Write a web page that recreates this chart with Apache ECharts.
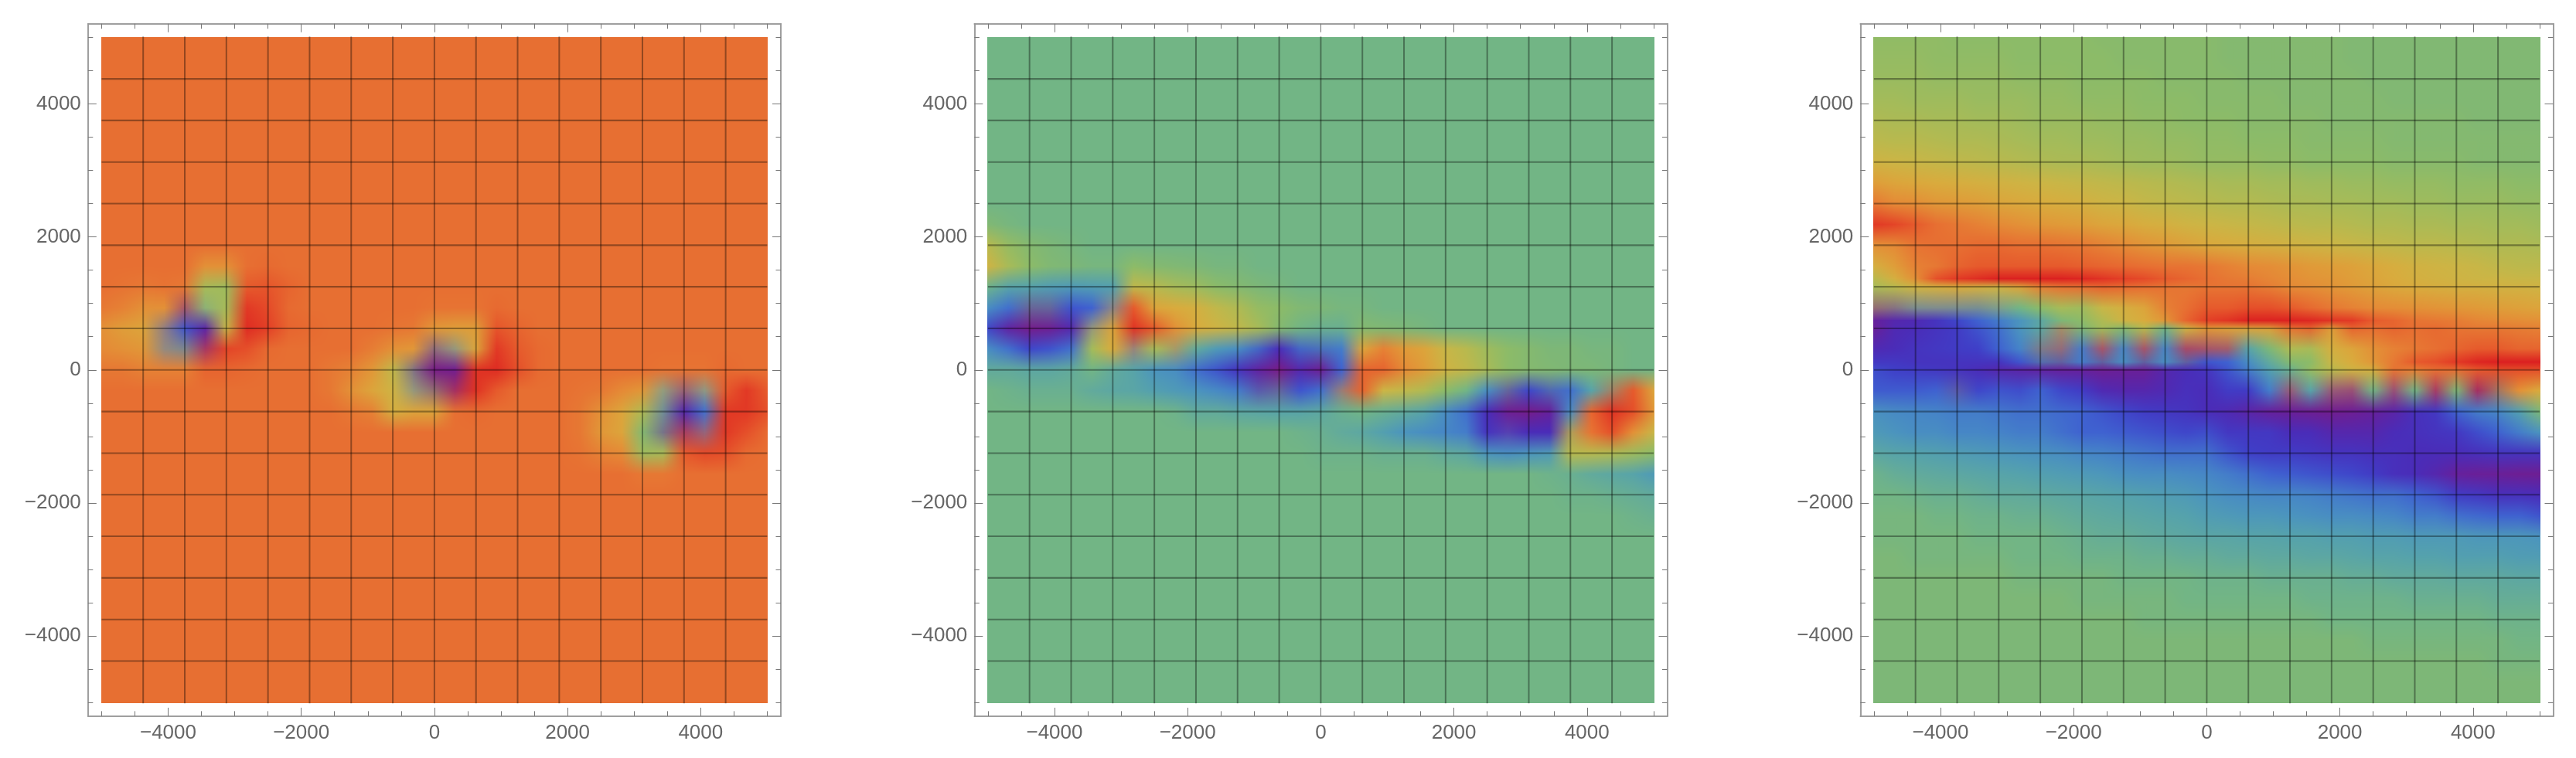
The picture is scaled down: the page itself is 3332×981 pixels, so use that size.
<!DOCTYPE html>
<html><head><meta charset="utf-8">
<style>html,body{margin:0;padding:0;background:#fff}#c{width:3332px;height:981px}</style>
<script src="https://cdn.jsdelivr.net/npm/echarts@6/dist/echarts.min.js"></script>
</head><body><div id="c"></div>
<script>
const majorTicks=[-4000,-2000,0,2000,4000];
const minorTicks=[-5000,-4500,-3500,-3000,-2500,-1500,-1000,-500,500,1000,1500,2500,3000,3500,4500,5000];
const meshValues=[-4375,-3750,-3125,-2500,-1875,-1250,-625,0,625,1250,1875,2500,3125,3750,4375];
const nodeX=[-5000,-4687.5,-4375,-4062.5,-3750,-3437.5,-3125,-2812.5,-2500,-2187.5,-1875,-1562.5,-1250,-937.5,-625,-312.5,0,312.5,625,937.5,1250,1562.5,1875,2187.5,2500,2812.5,3125,3437.5,3750,4062.5,4375,4687.5,5000];
const nodeY=[5000,4687.5,4375,4062.5,3750,3437.5,3125,2812.5,2500,2187.5,1875,1562.5,1250,937.5,625,312.5,0,-312.5,-625,-937.5,-1250,-1562.5,-1875,-2187.5,-2500,-2812.5,-3125,-3437.5,-3750,-4062.5,-4375,-4687.5,-5000];
const nodeYC=[5000,4687.5,4375,4062.5,3750,3437.5,3125,2812.5,2500,2187.5,1875,1562.5,1375,1250,937.5,750,625,312.5,125,0,-312.5,-625,-937.5,-1250,-1562.5,-1875,-2187.5,-2500,-2812.5,-3125,-3437.5,-3750,-4062.5,-4375,-4687.5,-5000];
const rampStops=[0,5,10,15,20,25,30,35,40,44,46,50,55,60,65,70,75,80,86,90,95,100];
const rampColors=['#781c86','#66209c','#4a2cb8','#3f3fc8','#3f62d0','#4583c8','#4b94be','#55a2ac','#62aa9c','#72b585','#7db777','#8cbb68','#a3bb5a','#b8b94e','#ccb545','#d9ab3d','#e09a38','#e58a36','#e76f32','#e65a2c','#e33f26','#db2020'];

const flatA=[86,86,86,86,86,86,86,86,86,86,86,86,86,86,86,86,86,86,86,86,86,86,86,86,86,86,86,86,86,86,86,86,86];
const valuesA=[flatA,flatA,flatA,flatA,flatA,flatA,flatA,flatA,flatA,flatA,flatA,
[86,86,86,86,86,78,78,86,87,86,86,86,86,86,86,86,86,86,86,86,86,86,86,86,86,86,86,86,86,86,86,86,86],
[86,85,84,85,84,56,54,90,91,88,86,86,86,86,86,86,86,86,86,86,86,86,86,86,86,86,86,86,86,86,86,86,86],
[84,82,78,78,[5,80],[40,60],56,96,93,87,86,86,86,86,86,86,85,85,85,87,86,86,86,86,86,86,86,86,86,86,86,86,86],
[78,74,72,[20,75],18,7,64,98,95,88,87,86,86,86,85,84,76,74,74,91,88,86,86,86,86,86,86,86,86,86,86,86,86],
[80,78,76,[25,78],[18,60],[5,92],94,92,87,86,86,86,86,83,78,76,[10,70],[30,75],72,96,90,87,86,86,86,86,86,86,86,86,86,86,86,86],
[84,84,82,82,82,88,88,87,86,86,86,84,82,76,62,[10,60],0,2,97,98,92,87,86,86,86,86,86,85,85,85,87,86,86],
[86,86,86,86,86,86,86,86,86,86,86,84,78,72,66,[30,75],[3,60],[5,95],97,90,86,86,86,85,84,80,76,[30,72],[8,75],[25,70],90,96,90],
[86,86,86,86,86,86,86,86,86,86,86,86,84,82,68,72,72,86,87,86,86,86,86,84,78,72,58,[20,55],8,22,96,96,92],
[86,86,86,86,86,86,86,86,86,86,86,86,86,86,86,86,86,86,86,86,86,86,86,84,76,72,48,[10,55],[3,90],[22,90],96,92,87],
[86,86,86,86,86,86,86,86,86,86,86,86,86,86,86,86,86,86,86,86,86,86,86,85,82,80,54,56,90,93,92,87,86],
[86,86,86,86,86,86,86,86,86,86,86,86,86,86,86,86,86,86,86,86,86,86,86,86,86,86,84,84,86,86,86,86,86],
flatA,flatA,flatA,flatA,flatA,flatA,flatA,flatA,flatA,flatA,flatA];

const flatB=[44,44,44,44,44,44,44,44,44,44,44,44,44,44,44,44,44,44,44,44,44,44,44,44,44,44,44,44,44,44,44,44,44];
const valuesB=[flatB,flatB,flatB,flatB,flatB,flatB,flatB,flatB,flatB,
[47,45,44,44,44,44,44,44,44,44,44,44,44,44,44,44,44,44,44,44,44,44,44,44,44,44,44,44,44,44,44,44,44],
[60,52,48,46,45,44,44,44,44,44,44,44,44,44,44,44,44,44,44,44,44,44,44,44,44,44,44,44,44,44,44,44,44],
[66,56,50,47,46,45,45,50,48,47,46,45,45,44,44,44,44,44,44,44,44,44,44,44,44,44,44,44,44,44,44,44,44],
[43,36,35,33,32,33,34,62,60,56,54,50,48,46,45,44,44,44,44,44,44,44,44,44,44,44,44,44,44,44,44,44,44],
[28,22,[3,40],[5,40],18,20,[20,70],90,72,70,68,62,58,52,50,47,46,45,45,44,44,44,44,44,44,44,44,44,44,44,44,44,44],
[16,6,1,3,8,[30,75],72,97,90,78,70,66,62,56,48,44,42,42,48,47,46,45,44,44,44,44,44,44,44,44,44,44,44],
[28,22,16,18,22,55,70,[30,85],56,[40,80],40,32,28,[15,28],10,[15,28],[15,35],24,72,82,75,72,64,60,54,50,48,46,46,45,45,44,44],
[40,40,38,38,40,44,40,36,30,28,22,18,12,6,0,8,3,20,88,88,80,74,66,62,56,50,48,47,46,46,45,44,44],
[44,43,42,42,42,40,38,37,34,32,30,27,24,[5,30],[5,40],18,22,[30,88],88,65,62,58,50,44,28,[5,40],16,[10,35],22,36,[40,90],90,72],
[44,44,44,44,44,44,44,44,44,43,40,40,38,37,36,36,38,42,44,42,40,36,28,22,10,3,1,5,28,88,97,92,76],
[44,44,44,44,44,44,44,44,44,44,44,44,44,44,44,43,42,40,38,34,30,28,26,24,12,[3,20],10,10,[45,80],85,92,78,64],
[44,44,44,44,44,44,44,44,44,44,44,44,44,44,44,44,43,43,43,42,42,42,40,38,30,28,30,32,60,60,58,54,50],
[44,44,44,44,44,44,44,44,44,44,44,44,44,44,44,44,44,44,44,44,44,44,44,44,44,44,44,43,42,40,38,36,32],
[44,44,44,44,44,44,44,44,44,44,44,44,44,44,44,44,44,44,44,44,44,44,44,44,44,44,44,44,43,43,42,41,40],
[44,44,44,44,44,44,44,44,44,44,44,44,44,44,44,44,44,44,44,44,44,44,44,44,44,44,44,44,44,44,44,43,42],
flatB,flatB,flatB,flatB,flatB,flatB,flatB,flatB,flatB];

const valuesC=[
[51,51,51,51,50,50,50,50,50,50,50,49,49,49,49,49,49,48,48,48,48,48,48,47,47,47,47,47,47,47,47,47,47],
[52,52,52,51,51,51,51,50,50,50,50,50,49,49,49,49,49,48,48,48,48,48,48,47,47,47,47,47,47,47,47,47,47],
[53,53,53,52,52,52,52,51,51,51,50,50,50,50,49,49,49,49,48,48,48,48,48,48,47,47,47,47,47,47,47,47,47],
[55,55,54,54,54,53,53,53,52,52,51,51,51,50,50,50,49,49,49,49,48,48,48,48,48,47,47,47,47,47,47,47,47],
[58,57,57,56,56,55,55,54,53,53,53,52,52,51,51,50,50,50,49,49,49,49,48,48,48,48,48,48,48,47,47,47,47],
[61,60,60,59,58,58,57,56,55,55,54,54,53,53,52,52,51,51,50,50,50,49,49,49,49,48,48,48,48,48,48,48,48],
[66,65,64,63,62,61,60,59,58,57,57,56,55,54,54,53,52,52,52,51,51,50,50,50,50,49,49,49,49,48,48,48,48],
[74,72,71,70,69,68,67,66,65,64,63,62,61,60,59,58,57,56,56,55,55,54,54,53,53,52,52,52,51,51,51,50,50],
[84,80,79,76,75,74,72,71,70,69,68,66,65,63,62,61,60,59,59,58,57,57,56,56,55,55,54,54,53,53,53,52,52],
[96,94,90,86,84,82,80,78,76,75,74,72,71,69,68,66,65,64,63,62,61,60,60,59,58,58,57,57,56,56,55,55,54],
[78,80,85,86,86,87,87,86,86,85,84,82,80,77,75,73,71,70,69,68,67,66,65,64,63,62,61,61,60,59,58,58,57],
[68,74,82,84,88,90,90,90,90,90,89,88,87,86,85,85,84,82,80,79,77,75,74,73,71,69,67,66,65,64,62,61,61],
[60,68,78,92,96,98,100,100,100,100,99,97,95,93,90,88,86,84,83,81,79,77,76,74,72,70,68,67,66,65,65,64,64],
[56,60,66,68,70,68,66,72,82,85,86,88,87,86,85,84,85,85,85,83,80,79,77,75,73,71,70,69,68,68,67,67,66],
[[5,62],[10,62],[20,60],[20,62],[20,60],[20,58],[25,60],44,50,56,54,64,68,72,82,86,90,90,92,92,90,87,84,82,80,79,78,77,76,75,74,73,72],
[5,8,9,12,16,20,24,30,38,46,50,58,66,70,76,88,95,97,100,100,100,99,97,96,90,88,85,84,83,81,80,79,78],
[4,9,10,12,14,18,22,30,38,[40,85],46,55,48,60,44,66,76,73,72,73,85,88,74,88,86,88,86,87,85,84,84,83,82],
[9,10,12,13,14,15,20,25,[15,60],[10,70],24,[5,80],26,[5,80],26,[5,85],[5,80],[5,75],36,46,58,56,68,72,78,82,84,86,88,90,90,88,88],
[13,13,12,12,12,12,12,18,[12,40],[3,35],24,[3,35],28,[3,35],28,[3,35],18,20,28,40,48,50,64,70,76,84,90,92,96,99,100,100,100],
[17,15,14,13,12,10,8,7,6,5,5,3,4,4,8,10,12,18,24,34,42,52,60,66,68,85,82,86,86,90,92,92,92],
[19,19,19,20,[5,30],16,18,17,20,16,14,9,8,8,9,11,10,14,14,24,[10,80],36,[10,80],[10,85],44,[10,85],44,[5,90],46,[5,95],[40,95],78,70],
[29,27,26,25,24,24,23,22,22,21,20,18,16,14,13,12,10,9,7,5,4,3,2,3,5,7,11,13,20,24,26,34,46],
[32,30,28,28,26,26,25,24,24,22,20,20,19,18,17,16,17,13,13,13,10,10,8,8,8,10,11,12,13,17,20,24,30],
[38,36,35,34,33,32,31,30,29,28,26,25,24,23,22,22,22,18,15,14,14,13,12,12,11,11,10,10,10,11,12,12,12],
[43,41,40,39,38,37,36,35,34,33,32,31,29,28,28,27,26,24,22,20,19,18,17,16,14,11,10,8,5,4,4,3,3],
[44,44,43,42,42,41,40,40,39,38,37,36,35,34,33,32,30,28,27,26,26,25,24,23,22,22,20,18,14,13,11,11,10],
[45,45,45,44,44,43,43,42,42,41,40,39,38,37,36,35,33,32,31,31,30,29,28,28,27,26,24,24,22,21,20,20,18],
[45,45,45,45,45,44,44,44,44,43,42,41,41,40,39,38,37,37,36,36,35,35,34,34,33,33,32,32,32,31,31,31,30],
[46,46,45,45,45,45,45,44,44,44,43,43,43,42,42,41,41,40,40,39,39,38,38,37,36,36,35,35,34,34,34,33,33],
[46,46,46,46,46,46,46,45,45,45,45,45,44,44,44,44,43,43,43,42,42,42,42,41,41,40,40,40,39,39,39,38,38],
[46,46,46,46,46,46,46,46,46,46,45,45,45,45,45,44,44,44,44,44,44,43,43,43,43,43,42,42,42,42,41,41,41],
[46,46,46,46,46,46,46,46,46,46,46,46,46,45,45,45,45,45,45,45,45,45,44,44,44,44,44,44,44,44,43,43,43],
[46,46,46,46,46,46,46,46,46,46,46,46,46,46,46,46,46,46,46,46,46,46,46,46,45,45,45,45,45,45,45,44,44],
[46,46,46,46,46,46,46,46,46,46,46,46,46,46,46,46,46,46,46,46,46,46,46,46,46,46,46,46,46,46,45,45,45],
[46,46,46,46,46,46,46,46,46,46,46,46,46,46,46,46,46,46,46,46,46,46,46,46,46,46,46,46,46,46,46,46,46],
[46,46,46,46,46,46,46,46,46,46,46,46,46,46,46,46,46,46,46,46,46,46,46,46,46,46,46,46,46,46,46,46,46]];

const panels=[{left:113.8,vals:valuesA,ys:nodeY},{left:1260.3,vals:valuesB,ys:nodeY},{left:2406.3,vals:valuesC,ys:nodeYC}];
const TOP=30.7,SIZE=896.2,RANGE=5204,AX='#999999',TK='#777777',TXT='#666666',FONT='"Liberation Sans",Arial,sans-serif';

const rampRGB=rampColors.map(c=>[1,3,5].map(k=>parseInt(c.substr(k,2),16)));
function rampAt(v){
  let k=0;while(k<rampStops.length-2&&v>rampStops[k+1])k++;
  const t=(v-rampStops[k])/(rampStops[k+1]-rampStops[k]);
  return rampRGB[k].map((c,n)=>c+(rampRGB[k+1][n]-c)*t);
}
function rgbOf(v){
  if(!Array.isArray(v))return rampAt(v);
  const a=rampAt(v[0]),b=rampAt(v[1]);
  return a.map((c,n)=>(c+b[n])/2);
}
function shaded(w,h,a,b,c,d){
  const cv=document.createElement('canvas');cv.width=w;cv.height=h;
  const g=cv.getContext('2d'),im=g.createImageData(w,h),A=rgbOf(a),B=rgbOf(b),C=rgbOf(c),D=rgbOf(d);
  for(let y=0;y<h;y++)for(let x=0;x<w;x++){
    const u=w>1?x/(w-1):0,s=h>1?y/(h-1):0,o=(y*w+x)*4;
    for(let n=0;n<3;n++)im.data[o+n]=(A[n]*(1-u)+B[n]*u)*(1-s)+(C[n]*(1-u)+D[n]*u)*s;
    im.data[o+3]=255;
  }
  g.putImageData(im,0,0);return cv;
}
function makeCellRenderer(P){
  return function(p,api){
    const i=api.value(0),j=api.value(1);
    const a=api.coord([nodeX[i],P.ys[j]]),b=api.coord([nodeX[i+1],P.ys[j+1]]);
    const w=Math.max(2,Math.ceil(b[0]-a[0])+1),h=Math.max(2,Math.ceil(b[1]-a[1])+1);
    return {type:'image',style:{image:shaded(w,h,P.vals[j][i],P.vals[j][i+1],P.vals[j+1][i],P.vals[j+1][i+1]),x:Math.floor(a[0]),y:Math.floor(a[1]),width:w,height:h},silent:true};
  };
}
function renderMesh(p,api){
  const v=api.value(1),vert=api.value(0)===0;
  const a=api.coord(vert?[v,5000]:[-5000,v]),b=api.coord(vert?[v,-5000]:[5000,v]);
  return {type:'line',shape:{x1:a[0],y1:a[1]-(vert?1:0),x2:b[0],y2:b[1]+(vert?1:0)},style:{stroke:vert?'rgba(0,0,0,0.37)':'rgba(0,0,0,0.36)',lineWidth:vert?2:2.1,fill:null},silent:true};
}
const grid=[],xAxis=[],yAxis=[],series=[];
panels.forEach((P,pi)=>{
  grid.push({left:P.left,top:TOP,width:SIZE,height:SIZE,containLabel:false});
  [['bottom',majorTicks,11,true],['bottom',minorTicks,6.5,false],['top',majorTicks,11,false],['top',minorTicks,6.5,false]].forEach(d=>{
    xAxis.push({type:'value',gridIndex:pi,min:-RANGE,max:RANGE,position:d[0],
      axisLine:{show:true,onZero:false,lineStyle:{color:AX,width:1.5}},splitLine:{show:false},
      axisTick:{show:true,inside:true,length:d[2],customValues:d[1],lineStyle:{color:TK,width:1}},
      axisLabel:d[3]?{show:true,customValues:d[1],margin:9,color:TXT,fontSize:26,fontFamily:FONT,formatter:v=>String(v).replace('-','\u2212')}:{show:false}});
  });
  [['left',majorTicks,11,true],['left',minorTicks,6.5,false],['right',majorTicks,11,false],['right',minorTicks,6.5,false]].forEach(d=>{
    yAxis.push({type:'value',gridIndex:pi,min:-RANGE,max:RANGE,position:d[0],
      axisLine:{show:true,onZero:false,lineStyle:{color:AX,width:1.5}},splitLine:{show:false},
      axisTick:{show:true,inside:true,length:d[2],customValues:d[1],lineStyle:{color:TK,width:1}},
      axisLabel:d[3]?{show:true,customValues:d[1],margin:9,color:TXT,fontSize:26,fontFamily:FONT,formatter:v=>String(v).replace('-','\u2212')}:{show:false}});
  });
  const cells=[];
  for(let j=0;j<P.ys.length-1;j++)for(let i=0;i<nodeX.length-1;i++)cells.push([i,j]);
  series.push({type:'custom',xAxisIndex:pi*4,yAxisIndex:pi*4,renderItem:makeCellRenderer(P),data:cells,encode:{x:[],y:[]},clip:false,animation:false,progressive:0,silent:true,z:2});
  const mesh=[];
  meshValues.forEach(v=>{mesh.push([0,v]);mesh.push([1,v]);});
  series.push({type:'custom',xAxisIndex:pi*4,yAxisIndex:pi*4,renderItem:renderMesh,data:mesh,encode:{x:[],y:[]},clip:false,animation:false,progressive:0,silent:true,z:3});
});
const chart=echarts.init(document.getElementById('c'),null,{renderer:'canvas'});
chart.setOption({animation:false,backgroundColor:'#ffffff',tooltip:{show:false},grid,xAxis,yAxis,series});
</script></body></html>
